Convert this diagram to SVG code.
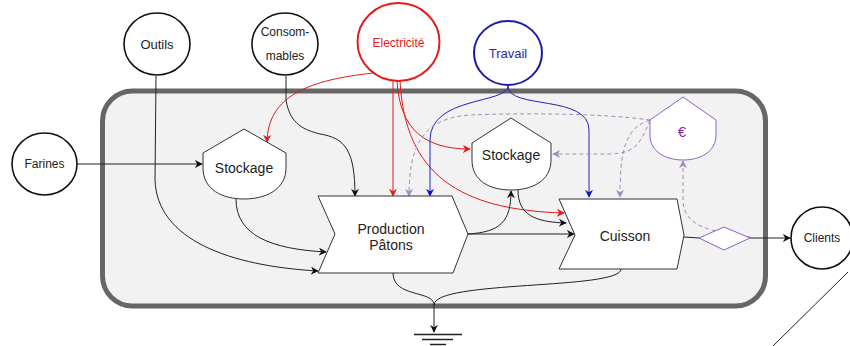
<svg xmlns="http://www.w3.org/2000/svg" width="850" height="346" viewBox="0 0 850 346">
<style>
text{font-family:"Liberation Sans",Arial,sans-serif;fill:#222;text-anchor:middle;dominant-baseline:central}
.c{fill:#fff;stroke:#111;stroke-width:1.6}
.sh{fill:#fff;stroke:#333;stroke-width:1}
.k{fill:none;stroke:#222;stroke-width:1}
.r{fill:none;stroke:#e51a1a;stroke-width:1}
.b{fill:none;stroke:#2222bb;stroke-width:1}
.p{fill:none;stroke:#a08cbc;stroke-width:1;stroke-dasharray:4 3}
</style>
<defs>
<marker id="ak" viewBox="0 0 10 10" refX="9" refY="5" markerWidth="8" markerHeight="8" markerUnits="userSpaceOnUse" orient="auto"><path d="M0,0L10,5L0,10L3,5Z" fill="#111"/></marker>
<marker id="ar" viewBox="0 0 10 10" refX="9" refY="5" markerWidth="8" markerHeight="8" markerUnits="userSpaceOnUse" orient="auto"><path d="M0,0L10,5L0,10L3,5Z" fill="#e51a1a"/></marker>
<marker id="ab" viewBox="0 0 10 10" refX="9" refY="5" markerWidth="8" markerHeight="8" markerUnits="userSpaceOnUse" orient="auto"><path d="M0,0L10,5L0,10L3,5Z" fill="#1111bb"/></marker>
<marker id="ap" viewBox="0 0 10 10" refX="9" refY="5" markerWidth="8" markerHeight="8" markerUnits="userSpaceOnUse" orient="auto"><path d="M0,0L10,5L0,10L3,5Z" fill="#a08cbc"/></marker>
</defs>

<g id="container">
<rect x="102.5" y="91" width="663" height="215" rx="30" fill="#f2f2f2" stroke="#666" stroke-width="5"/>
</g>

<g id="connectors">
<path class="k" d="M77,164 L202,164" marker-end="url(#ak)"/>
<path class="k" d="M156,76 L155,180 C157,240 230,266 318,271" marker-end="url(#ak)"/>
<path class="k" d="M236,199 C236,235 270,249 326,252" marker-end="url(#ak)"/>
<path class="k" d="M286,76 L286,100 C290,125 305,130 320,134 C345,138 355,150 355,196" marker-end="url(#ak)"/>
<path class="r" d="M373,73 C310,80 268,95 267,142" marker-end="url(#ar)"/>
<path class="r" d="M393,81 L393,196" marker-end="url(#ar)"/>
<path class="r" d="M397,81 C400,130 425,149 470,149" marker-end="url(#ar)"/>
<path class="r" d="M400,81 C405,175 460,210 564,213" marker-end="url(#ar)"/>
<path class="b" d="M508,86 C508,104 430,96 430,140 L430,196" marker-end="url(#ab)"/>
<path class="b" d="M508,86 C508,110 589,94 589,130 L589,197" marker-end="url(#ab)"/>
<path class="k" d="M468,234 C500,232 511,222 511,191" marker-end="url(#ak)"/>
<path class="k" d="M518,190 C518,215 535,222 566,223" marker-end="url(#ak)"/>
<path class="k" d="M468,234 L574,234" marker-end="url(#ak)"/>
<path class="k" d="M684,237 L699,238"/>
<path class="k" d="M750,238 L790,238" marker-end="url(#ak)"/>
<path class="p" d="M750,237 C715,232 683,228 683,200 L683,161" marker-end="url(#ap)"/>
<path class="p" d="M650,120 C600,113 520,113 470,115 C420,118 409,150 409,196" marker-end="url(#ap)"/>
<path class="p" d="M650,120 C640,145 635,153 610,154 L553,154" marker-end="url(#ap)"/>
<path class="p" d="M650,120 C625,128 620,150 620,197" marker-end="url(#ap)"/>
<path class="k" d="M393,273 C393,298 434,290 434,305"/>
<path class="k" d="M621,269 C621,290 434,280 434,305 L434,332" marker-end="url(#ak)"/>
<path class="k" d="M848,272 L773,346"/>
</g>

<g id="ground">
<path d="M414,334.5H462M422,339.5H453M430,344.5H446" stroke="#222" stroke-width="1.5"/>
</g>

<g id="outils"><ellipse class="c" cx="157" cy="44" rx="33" ry="31"/><text x="157" y="44" font-size="13">Outils</text></g>
<g id="consommables"><ellipse class="c" cx="285" cy="44" rx="33" ry="31"/><text x="285" y="32" font-size="12">Consom-</text><text x="285" y="56" font-size="12">mables</text></g>
<g id="electricite"><ellipse cx="398.5" cy="42" rx="41" ry="39" fill="#fff" stroke="#e51a1a" stroke-width="2"/><text x="398.5" y="43" font-size="12" style="fill:#e51a1a">Electricité</text></g>
<g id="travail"><ellipse cx="508" cy="53" rx="34" ry="32" fill="#fff" stroke="#1a1aaa" stroke-width="2"/><text x="508" y="53" font-size="13" style="fill:#2a2aa8">Travail</text></g>
<g id="farines"><ellipse class="c" cx="44.5" cy="164" rx="32.5" ry="31"/><text x="44.5" y="164" font-size="12">Farines</text></g>
<g id="clients"><ellipse class="c" cx="822" cy="238" rx="31" ry="31"/><text x="822" y="238" font-size="12">Clients</text></g>

<g id="stockage1"><path class="sh" d="M203,153 L244,129 L286,153 L286,168 C286,190 265,199 244,199 C223,199 203,190 203,168 Z"/><text x="244" y="168" font-size="14">Stockage</text></g>
<g id="stockage2"><path class="sh" d="M472,143 L511,118 L551,143 L551,160 C551,181 532,190 511,190 C490,190 472,181 472,160 Z"/><text x="511" y="155" font-size="14">Stockage</text></g>
<g id="euro"><path d="M650,120 L683,97 L716,120 L716,135 C716,152 700,160 683,160 C666,160 650,152 650,135 Z" fill="#fff" stroke="#9060c8" stroke-width="1"/><text x="682" y="131" font-size="15" style="fill:#7a2aa8">€</text></g>
<g id="production"><path class="sh" d="M318,196 L452,196 L468,234 L453,273 L318,273 L335,234 Z"/><text x="391" y="229" font-size="14">Production</text><text x="391" y="245" font-size="14">Pâtons</text></g>
<g id="cuisson"><path class="sh" d="M559,199 L677,199 L684,235 L677,269 L559,269 L575,235 Z"/><text x="625" y="236" font-size="14">Cuisson</text></g>
<g id="diamond"><path d="M699,238 L724,227 L750,238 L724,250 Z" fill="#fff" stroke="#9060c8" stroke-width="1"/></g>
</svg>
